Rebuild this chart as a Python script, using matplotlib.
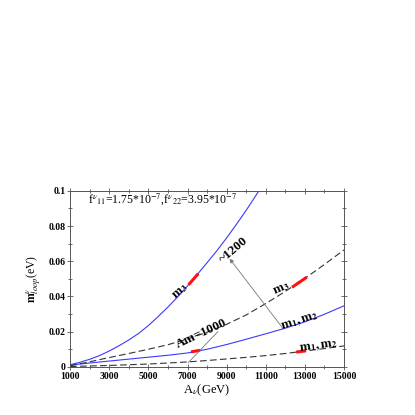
import numpy as np
import matplotlib
matplotlib.use('Agg')
import matplotlib.pyplot as plt
from matplotlib.ticker import MultipleLocator

plt.rcParams['font.family'] = ['Liberation Serif', 'DejaVu Serif']
plt.rcParams['mathtext.fontset'] = 'stix'

# curves
A_m3_blue = [1000, 1500, 2000, 2500, 3000, 3500, 4000, 4500, 5000, 5500, 6000, 6500,
             7000, 7500, 8000, 8500, 9000, 9500, 10000, 10500, 10700]
m3_blue = [0.0012, 0.0026, 0.0043, 0.0064, 0.0090, 0.0120, 0.0153, 0.0190, 0.0235, 0.0286,
           0.0340, 0.0398, 0.0460, 0.0525, 0.0592, 0.0660, 0.0733, 0.0810, 0.0890, 0.0975, 0.1010]

A_grid = [1000, 2000, 3000, 4000, 5000, 6000, 7000, 8000, 9000, 10000, 11000, 12000, 13000, 14000, 15000]
m12_blue = [0.0010, 0.0022, 0.0033, 0.0044, 0.0055, 0.0066, 0.0079, 0.0100, 0.0127, 0.0157,
            0.0188, 0.0220, 0.0256, 0.0299, 0.0347]
m3_dash = [0.0006, 0.0029, 0.0053, 0.0076, 0.0100, 0.0126, 0.0158, 0.0197, 0.0242, 0.0295,
           0.0360, 0.0429, 0.0503, 0.0582, 0.0665]
m12_dash = [0.0002, 0.0005, 0.0008, 0.0012, 0.0016, 0.0022, 0.0028, 0.0036, 0.0045, 0.0054,
            0.0064, 0.0076, 0.0090, 0.0104, 0.0119]

# red highlighted pieces (x pair, y pair)
red_segs = [([7050, 7550], [0.0466, 0.0530]),
            ([12340, 13100], [0.0452, 0.0510]),
            ([7180, 7640], [0.0085, 0.0094]),
            ([12550, 13060], [0.0084, 0.0091])]

xticks = [1000, 3000, 5000, 7000, 9000, 11000, 13000, 15000]
yticks = [0, 0.02, 0.04, 0.06, 0.08, 0.1]
ytick_labels = ['0', '0.02', '0.04', '0.06', '0.08', '0.1']

fig = plt.figure(figsize=(4.15, 4.15), dpi=100)
ax = fig.add_axes([0.169, 0.116, 0.660, 0.424])

ax.plot(A_m3_blue, m3_blue, color='#3a3aff', lw=0.8)
ax.plot(A_grid, m12_blue, color='#3a3aff', lw=0.8)
ax.plot(A_grid, m3_dash, color='#333333', lw=0.8, dashes=(6, 3))
ax.plot(A_grid, m12_dash, color='#333333', lw=0.8, dashes=(6, 3))
for xs, ys in red_segs:
    ax.plot(xs, ys, color='#ff1010', lw=2.2, solid_capstyle='butt')

# arrows
ax.annotate('', xy=(9150, 0.0615), xytext=(11900, 0.0215),
            arrowprops=dict(arrowstyle='-|>', color='#777777', lw=0.6,
                            mutation_scale=6, shrinkA=0, shrinkB=0))
ax.annotate('', xy=(8550, 0.0200), xytext=(7030, 0.0023),
            arrowprops=dict(arrowstyle='-', color='#777777', lw=0.6,
                            shrinkA=0, shrinkB=0))

tkw = dict(fontsize=9.5, fontweight='bold', ha='center', va='center')
ax.text(6620, 0.0430, r'$\mathbf{m_3}$', rotation=42, **tkw)
ax.text(9380, 0.0665, '~1200', rotation=40, **tkw)
ax.text(11830, 0.0440, r'$\mathbf{m_3}$', rotation=24, **tkw)
ax.text(7700, 0.0190, 'Am=1000', rotation=25, **tkw)
ax.text(12750, 0.0262, r'$\mathbf{m_1,m_2}$', rotation=18, **tkw)
ax.text(13680, 0.0115, r'$\mathbf{m_1,m_2}$', rotation=8, **tkw)

ax.text(1900, 0.0955, r'f$^{\nu}{}_{11}$=1.75*10$^{-7}$,f$^{\nu}{}_{22}$=3.95*10$^{-7}$',
        fontsize=8.5, ha='left', va='center')

ax.set_xlim(1000, 15000)
ax.set_ylim(0, 0.1)
ax.set_xticks(xticks)
ax.set_yticks(yticks)
ax.set_yticklabels(ytick_labels)
ax.xaxis.set_minor_locator(MultipleLocator(1000))
ax.yaxis.set_minor_locator(MultipleLocator(0.01))
ax.tick_params(which='both', direction='inout', top=True, right=True,
               color='#555555', width=0.6, labelsize=7, pad=1)
ax.tick_params(which='major', length=5)
ax.tick_params(which='minor', length=3)
for lab in ax.get_xticklabels() + ax.get_yticklabels():
    lab.set_fontweight('bold')
for s in ax.spines.values():
    s.set_color('#555555')
    s.set_linewidth(0.7)

ax.set_xlabel(r'A$_{\nu}$(GeV)', fontsize=9, labelpad=1)
ax.set_ylabel(r'$\mathbf{m}^{\nu}_{loop}$(eV)', fontsize=8.5, labelpad=4)

fig.savefig('out.png', dpi=100)
